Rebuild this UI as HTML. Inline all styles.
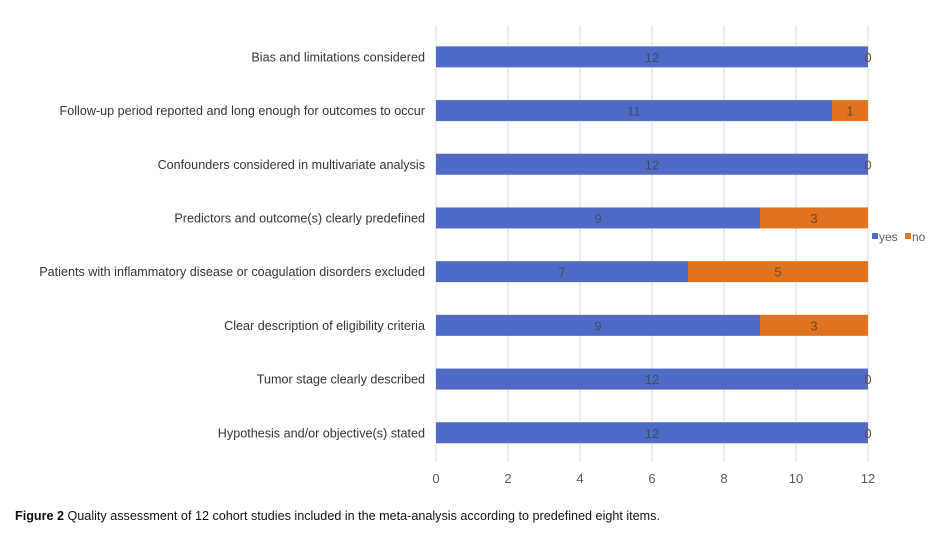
<!DOCTYPE html>
<html><head><meta charset="utf-8"><style>
body{margin:0;background:#fff;width:934px;height:536px;overflow:hidden;font-family:"Liberation Sans",sans-serif}
svg text{font-family:"Liberation Sans",sans-serif}
</style></head><body>
<svg id="chart" width="934" height="536"></svg>
<script>
const categories=["Bias and limitations considered","Follow-up period reported and long enough for outcomes to occur","Confounders considered in multivariate analysis","Predictors and outcome(s) clearly predefined","Patients with inflammatory disease or coagulation disorders excluded","Clear description of eligibility criteria","Tumor stage clearly described","Hypothesis and/or objective(s) stated"];
const yesValues=[12,11,12,9,7,9,12,12];
const noValues=[0,1,0,3,5,3,0,0];
const tickLabels=[0,2,4,6,8,10,12];
const NS="http://www.w3.org/2000/svg";
const svg=document.getElementById('chart');
const x0=436,x1=868,xmax=12;
const xs=v=>x0+(x1-x0)*v/xmax;
const yTop=30,band=53.7,barH=21;
const yc=i=>yTop+band*(i+0.5);
function mk(t,a,txt){const e=document.createElementNS(NS,t);for(const k in a)e.setAttribute(k,a[k]);if(txt!==undefined)e.textContent=txt;svg.appendChild(e);return e;}
tickLabels.forEach(t=>{
 const g=mk('line',{x1:xs(t),x2:xs(t),y1:25,y2:462,stroke:'#d9d9d9','stroke-width':1});
 
 
 const l=mk('text',{x:xs(t),y:483,'text-anchor':'middle','font-size':13,fill:'#595959'},t);
 
 
});
categories.forEach((c,i)=>{
 const y=yc(i);
 const lab=mk('text',{x:425,y:y+4.5,'text-anchor':'end','font-size':12.6,fill:'#333'},c);
 
 
 const b1=mk('rect',{x:xs(0),y:y-barH/2,width:xs(yesValues[i])-xs(0),height:barH,fill:'#4f6bc6'});
 
 
 const b2=mk('rect',{x:xs(yesValues[i]),y:y-barH/2,width:xs(yesValues[i]+noValues[i])-xs(yesValues[i]),height:barH,fill:'#e07320'});
 
 
 const t1=mk('text',{x:(xs(0)+xs(yesValues[i]))/2,y:y+5,'text-anchor':'middle','font-size':13,fill:'#404a6a'},yesValues[i]);
 
 
 const t2=mk('text',{x:(xs(yesValues[i])+xs(yesValues[i]+noValues[i]))/2,y:y+5,'text-anchor':'middle','font-size':13,fill:'#6a4a2a'},noValues[i]);
 
 
});
const lg=[['yes','#4f6bc6',872],['no','#e07320',905]];
lg.forEach(([n,c,x])=>{
 const r=mk('rect',{x:x,y:233,width:6,height:6,fill:c});
 
 
 const t=mk('text',{x:x+7,y:241,'font-size':12,fill:'#595959'},n);
 
 
});
const cap=mk('text',{x:15,y:520,'font-size':12.5,fill:'#111',textLength:645,lengthAdjust:'spacingAndGlyphs'});


const b=document.createElementNS(NS,'tspan');b.setAttribute('font-weight','bold');b.textContent='Figure 2';cap.appendChild(b);
const r=document.createElementNS(NS,'tspan');r.textContent=' Quality assessment of 12 cohort studies included in the meta-analysis according to predefined eight items.';cap.appendChild(r);
</script>
</body></html>
